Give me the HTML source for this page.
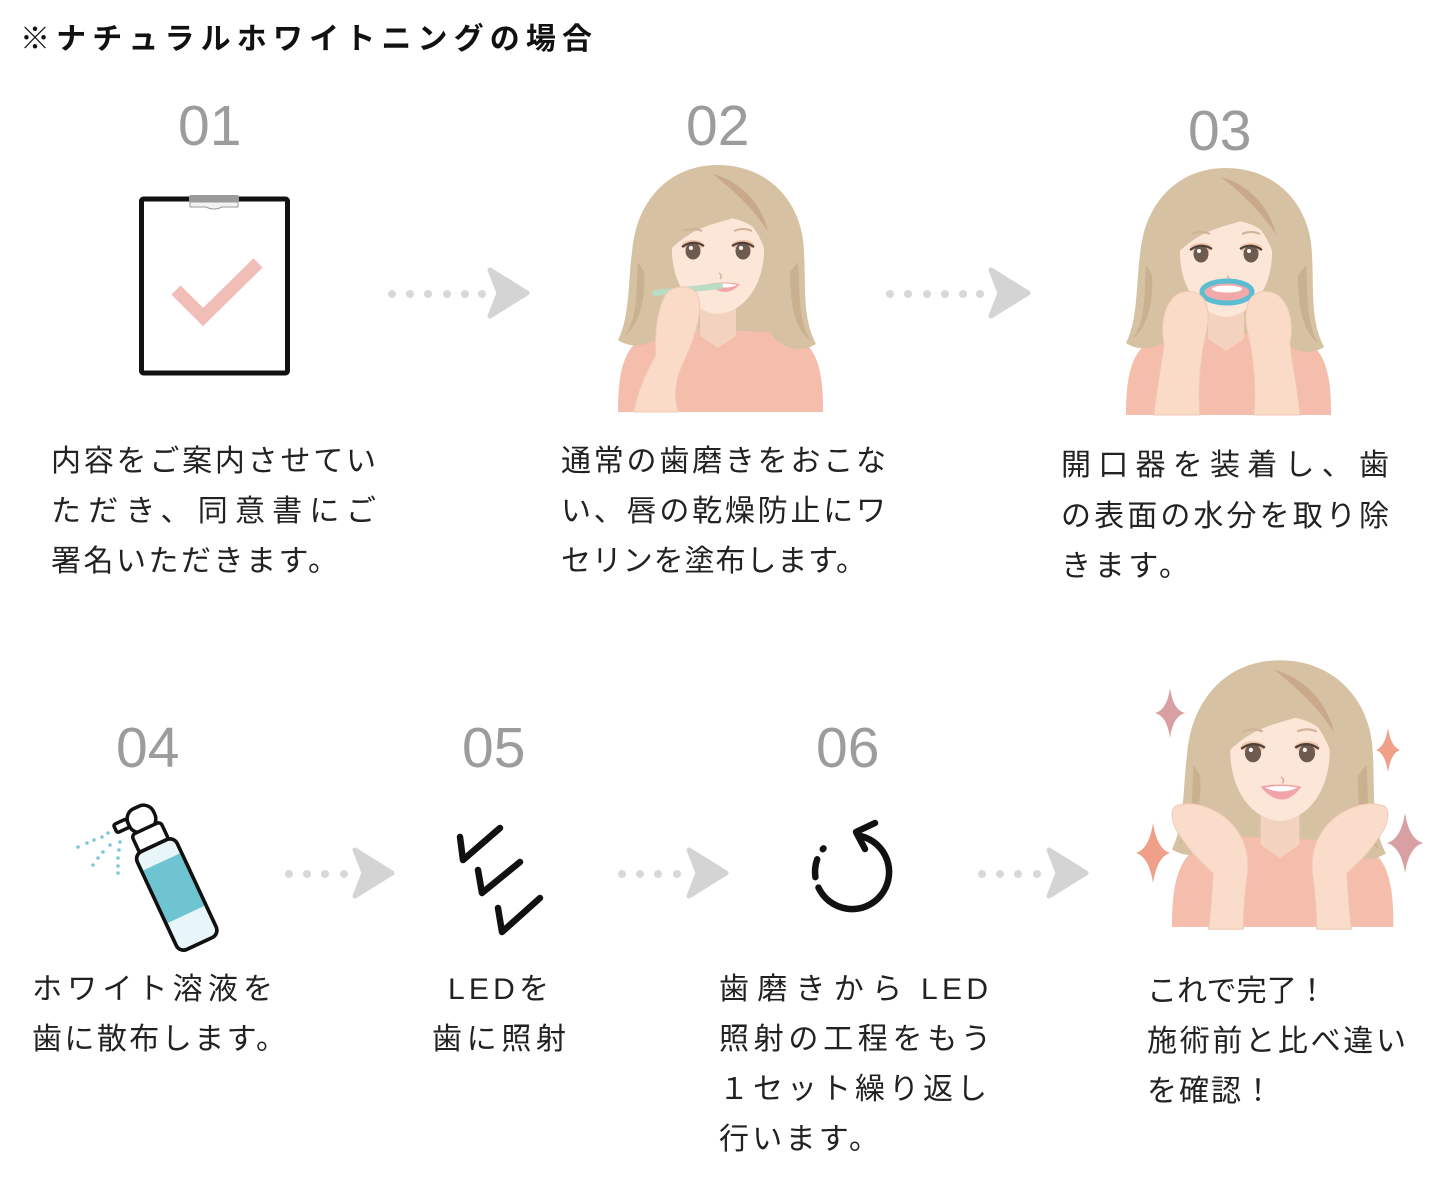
<!DOCTYPE html>
<html lang="ja">
<head>
<meta charset="utf-8">
<style>
html,body{margin:0;padding:0;background:#fff;}
svg{display:block;}
.t{font-family:"Liberation Sans","Noto Sans CJK JP",sans-serif;font-size:30px;fill:#222;}
.n{font-family:"Liberation Sans","Noto Sans CJK JP",sans-serif;font-size:57px;fill:#9c9c9c;}
.ttl{font-family:"Liberation Sans","Noto Sans CJK JP",sans-serif;font-size:30px;font-weight:bold;fill:#111;}
</style>
</head>
<body>
<svg width="1450" height="1179" viewBox="0 0 1450 1179" xmlns="http://www.w3.org/2000/svg">
<defs>
  <g id="head">
    <path d="M 0,-97 C 50,-97 85,-60 86,-10 C 88,25 84,55 98,82 C 82,92 62,86 52,70 L -50,66 C -62,84 -86,88 -100,78 C -88,54 -90,20 -86,-10 C -82,-60 -50,-97 0,-97 Z" fill="#d6c1a2"/>
    <path d="M -80,0 C -82,30 -80,58 -94,74 C -80,64 -72,40 -74,10 Z" fill="#c9b08f"/>
    <path d="M 80,0 C 82,30 80,58 92,78 C 76,66 72,40 72,10 Z" fill="#c9b08f"/>
    <path d="M -18,28 L -18,74 L 0,86 L 18,74 L 18,28 Z" fill="#f3d2bf"/>
    <path d="M -46,-15 C -47,20 -28,50 0,52 C 28,50 47,20 46,-15 C 45,-55 -45,-55 -46,-15 Z" fill="#fce6d8"/>
    <path d="M -50,-10 C -52,-60 -25,-90 5,-90 C 40,-88 62,-55 50,0 C 46,-20 36,-38 22,-48 C 10,-38 -20,-42 -50,-10 Z" fill="#d6c1a2"/>
    <path d="M -5,-88 C 25,-80 45,-55 50,-30 C 38,-50 20,-68 -5,-88 Z" fill="#caa98a"/>
    <path d="M -34,-31 Q -25,-35 -16,-31" stroke="#d0b298" stroke-width="2" fill="none"/>
    <path d="M 16,-31 Q 25,-35 34,-31" stroke="#d0b298" stroke-width="2" fill="none"/>
    <ellipse cx="-25" cy="-17" rx="11" ry="5" fill="#f0c4aa"/>
    <ellipse cx="25" cy="-17" rx="11" ry="5" fill="#f0c4aa"/>
    <ellipse cx="-25" cy="-11" rx="7.5" ry="8.5" fill="#6d5b4f"/>
    <ellipse cx="25" cy="-11" rx="7.5" ry="8.5" fill="#6d5b4f"/>
    <circle cx="-27" cy="-14" r="2" fill="#fff"/>
    <circle cx="23" cy="-14" r="2" fill="#fff"/>
    <path d="M -36,-15 Q -25,-23 -14,-16" stroke="#4e4038" stroke-width="2.2" fill="none"/>
    <path d="M 14,-16 Q 25,-23 36,-15" stroke="#4e4038" stroke-width="2.2" fill="none"/>
    <path d="M 1,11 Q 5,14 2,17" stroke="#d9b4a0" stroke-width="1.5" fill="none"/>
  </g>
  <path id="shirt" d="M -100,150 C -100,115 -96,85 -72,74 C -52,66 -32,62 -20,62 L 0,84 L 20,62 C 32,62 54,66 76,74 C 102,85 105,115 105,150 Z" fill="#f5bdab"/>
  <g id="arrowhead">
    <path d="M -9,-23 L 28,0 L -9,23 L 0,0 Z" fill="#d4d4d4" stroke="#d4d4d4" stroke-width="5" stroke-linejoin="round"/>
  </g>
</defs>

<!-- Title -->
<text class="ttl" x="20" y="49" textLength="572" lengthAdjust="spacing">※ナチュラルホワイトニングの場合</text>

<!-- Numbers -->
<text class="n" x="178" y="145">01</text>
<text class="n" x="686" y="145">02</text>
<text class="n" x="1188" y="150">03</text>
<text class="n" x="116" y="767">04</text>
<text class="n" x="462" y="767">05</text>
<text class="n" x="816" y="767">06</text>

<!-- Step 1 clipboard -->
<rect x="141.5" y="199" width="146" height="174" rx="2" fill="#fff" stroke="#111" stroke-width="5"/>
<rect x="189" y="195" width="50" height="8" rx="2" fill="#9a9a9a"/>
<path d="M 190,202 L 238,202 L 238,207 L 222,207 Q 214,211 206,207 L 190,207 Z" fill="#f2f2f2" stroke="#9a9a9a" stroke-width="1"/>
<polyline points="176,290 203,317 258,263" fill="none" stroke="#f1bdb7" stroke-width="13"/>

<!-- Arrows row 1 -->
<g fill="#d8d8d8">
  <circle cx="392" cy="294" r="4"/><circle cx="410" cy="294" r="4"/><circle cx="428" cy="294" r="4"/>
  <circle cx="447" cy="294" r="4"/><circle cx="465" cy="294" r="4"/><circle cx="482" cy="294" r="4"/>
</g>
<use href="#arrowhead" transform="translate(499,293)"/>
<g fill="#d8d8d8">
  <circle cx="890" cy="294" r="4"/><circle cx="908" cy="294" r="4"/><circle cx="927" cy="294" r="4"/>
  <circle cx="945" cy="294" r="4"/><circle cx="963" cy="294" r="4"/><circle cx="980" cy="294" r="4"/>
</g>
<use href="#arrowhead" transform="translate(1000,293)"/>

<!-- Arrows row 2 -->
<g fill="#d8d8d8">
  <circle cx="289" cy="874" r="4"/><circle cx="307" cy="874" r="4"/><circle cx="325" cy="874" r="4"/><circle cx="344" cy="874" r="4"/>
</g>
<use href="#arrowhead" transform="translate(364,873)"/>
<g fill="#d8d8d8">
  <circle cx="622" cy="874" r="4"/><circle cx="640" cy="874" r="4"/><circle cx="658" cy="874" r="4"/><circle cx="677" cy="874" r="4"/>
</g>
<use href="#arrowhead" transform="translate(698,873)"/>
<g fill="#d8d8d8">
  <circle cx="982" cy="874" r="4"/><circle cx="1000" cy="874" r="4"/><circle cx="1018" cy="874" r="4"/><circle cx="1037" cy="874" r="4"/>
</g>
<use href="#arrowhead" transform="translate(1058,873)"/>

<!-- Woman 2 (brushing) -->
<g transform="translate(718,262)">
  <use href="#shirt"/>
  <use href="#head"/>
  <path d="M -10,22 Q 5,19 22,22 Q 8,38 -10,22 Z" fill="#f1a7a6"/>
  <path d="M -7,23 Q 6,20 19,23 Q 8,28 -7,23 Z" fill="#fff"/>
  <line x1="-63" y1="31" x2="2" y2="24" stroke="#b9dcc5" stroke-width="6" stroke-linecap="round"/>
  <path d="M -84,150 C -80,125 -70,108 -62,92 C -64,70 -60,45 -52,32 C -46,24 -30,22 -22,30 C -16,40 -18,58 -24,74 C -28,90 -36,100 -40,115 C -44,130 -42,140 -40,150 Z" fill="#f9dbc8" stroke="#f0c9b4" stroke-width="1"/>
</g>

<!-- Woman 3 (retractor) -->
<g transform="translate(1226,265)">
  <use href="#shirt"/>
  <use href="#head"/>
  <ellipse cx="1" cy="27" rx="25" ry="11" fill="#f3a9a9" stroke="#5cbcd1" stroke-width="5"/>
  <ellipse cx="1" cy="24" rx="15" ry="3.5" fill="#fff"/>
  <path d="M -72,150 C -70,125 -64,100 -62,78 C -66,60 -62,40 -50,30 C -40,24 -28,26 -22,34 C -15,46 -18,62 -22,78 C -26,100 -28,125 -26,150 Z" fill="#f9dbc8" stroke="#f0c9b4" stroke-width="1"/>
  <g transform="translate(2,0) scale(-1,1)">
    <path d="M -72,150 C -70,125 -64,100 -62,78 C -66,60 -62,40 -50,30 C -40,24 -28,26 -22,34 C -15,46 -18,62 -22,78 C -26,100 -28,125 -26,150 Z" fill="#f9dbc8" stroke="#f0c9b4" stroke-width="1"/>
  </g>
</g>

<!-- Step 4 spray bottle -->
<g fill="#7cc8d6">
  <circle cx="78" cy="847" r="1.8"/><circle cx="87" cy="843" r="1.8"/><circle cx="94" cy="840" r="1.8"/><circle cx="102" cy="837" r="1.8"/><circle cx="108" cy="833" r="1.8"/>
  <circle cx="93" cy="865" r="1.8"/><circle cx="98" cy="858" r="1.8"/><circle cx="103" cy="852" r="1.8"/><circle cx="110" cy="845" r="1.8"/>
  <circle cx="118" cy="873" r="1.8"/><circle cx="118" cy="866" r="1.8"/><circle cx="118" cy="858" r="1.8"/><circle cx="119" cy="850" r="1.8"/><circle cx="120" cy="842" r="1.8"/>
</g>
<g transform="translate(170,880) rotate(-25)" stroke="#111" stroke-width="3.5" stroke-linejoin="round">
  <rect x="-28" y="-74" width="14" height="9" rx="2" fill="#fff"/>
  <rect x="-14" y="-80" width="28" height="25" rx="11" fill="#fff"/>
  <rect x="-16" y="-57" width="32" height="21" rx="4" fill="#fff"/>
  <rect x="-22" y="-38" width="44" height="108" rx="8" fill="#e8f5f9"/>
  <rect x="-20.2" y="-20" width="40.4" height="58" fill="#6fc4d1" stroke="none"/>
  <rect x="-22" y="-38" width="44" height="108" rx="8" fill="none"/>
</g>

<!-- Step 5 LED checks -->
<g fill="none" stroke="#111" stroke-width="6.5" stroke-linecap="round" stroke-linejoin="round">
  <polyline points="460,837 463,860 500,828"/>
  <polyline points="478,870 482,893 520,862"/>
  <polyline points="498,908 502,932 540,898"/>
</g>

<!-- Step 6 reload -->
<g fill="none" stroke="#111" stroke-width="6.5" stroke-linecap="round" stroke-linejoin="round">
  <path d="M 861.6,836.3 A 37,37 0 1 1 818.5,887.6"/>
  <path d="M 815.4,877.1 A 37,37 0 0 1 817.2,859.3"/>
  <path d="M 822.8,849.2 L 823.5,848.4"/>
  <polyline points="875,823 856,832 865,849"/>
</g>

<!-- Woman 7 (final) -->
<g fill="#d9a0a3">
  <path d="M 1170,688 Q 1173,710 1185,713 Q 1173,716 1170,738 Q 1167,716 1155,713 Q 1167,710 1170,688 Z"/>
  <path d="M 1405,813 Q 1409,839 1423,843 Q 1409,847 1405,873 Q 1401,847 1387,843 Q 1401,839 1405,813 Z"/>
</g>
<g fill="#f0a088">
  <path d="M 1388,728 Q 1391,747 1400,750 Q 1391,753 1388,772 Q 1385,753 1376,750 Q 1385,747 1388,728 Z"/>
  <path d="M 1153,823 Q 1157,849 1170,853 Q 1157,857 1153,883 Q 1149,857 1136,853 Q 1149,849 1153,823 Z"/>
</g>
<g transform="translate(1280,765) scale(1.08)">
  <use href="#shirt"/>
  <use href="#head"/>
  <path d="M -18,20 Q 0,16 20,20 Q 2,44 -18,20 Z" fill="#f0a6a8"/>
  <path d="M -14,21 Q 1,18 16,21 Q 2,28 -14,21 Z" fill="#fff"/>
  <path d="M -96,38 C -80,32 -58,40 -44,55 C -34,66 -28,82 -30,100 C -32,115 -34,135 -34,152 L -66,152 C -64,130 -62,110 -62,100 C -74,90 -88,75 -97,58 C -101,48 -101,40 -96,38 Z" fill="#fadccb" stroke="#f0c9b4" stroke-width="1"/>
  <g transform="scale(-1,1)">
    <path d="M -96,38 C -80,32 -58,40 -44,55 C -34,66 -28,82 -30,100 C -32,115 -34,135 -34,152 L -66,152 C -64,130 -62,110 -62,100 C -74,90 -88,75 -97,58 C -101,48 -101,40 -96,38 Z" fill="#fadccb" stroke="#f0c9b4" stroke-width="1"/>
  </g>
</g>

<!-- Texts step 1 -->
<text class="t" x="51" y="471" textLength="325" lengthAdjust="spacing">内容をご案内させてい</text>
<text class="t" x="51" y="521" textLength="325" lengthAdjust="spacing">ただき、同意書にご</text>
<text class="t" x="51" y="571" textLength="287" lengthAdjust="spacing">署名いただきます。</text>

<!-- Step 2 -->
<text class="t" x="561" y="471" textLength="325" lengthAdjust="spacing">通常の歯磨きをおこな</text>
<text class="t" x="561" y="521" textLength="325" lengthAdjust="spacing">い、唇の乾燥防止にワ</text>
<text class="t" x="561" y="571" textLength="305" lengthAdjust="spacing">セリンを塗布します。</text>

<!-- Step 3 -->
<text class="t" x="1061" y="475" textLength="328" lengthAdjust="spacing">開口器を装着し、歯</text>
<text class="t" x="1061" y="526" textLength="328" lengthAdjust="spacing">の表面の水分を取り除</text>
<text class="t" x="1061" y="576" textLength="128" lengthAdjust="spacing">きます。</text>

<!-- Step 4 -->
<text class="t" x="32" y="999" textLength="241" lengthAdjust="spacing">ホワイト溶液を</text>
<text class="t" x="32" y="1049" textLength="254" lengthAdjust="spacing">歯に散布します。</text>

<!-- Step 5 -->
<text class="t" x="448" y="999" textLength="101" lengthAdjust="spacing">LEDを</text>
<text class="t" x="432" y="1049" textLength="134" lengthAdjust="spacing">歯に照射</text>

<!-- Step 6 -->
<text class="t" x="719" y="999" textLength="183" lengthAdjust="spacing">歯磨きから</text>
<text class="t" x="921" y="999" textLength="67" lengthAdjust="spacing">LED</text>
<text class="t" x="719" y="1049" textLength="272" lengthAdjust="spacing">照射の工程をもう</text>
<text class="t" x="719" y="1099" textLength="268" lengthAdjust="spacing">１セット繰り返し</text>
<text class="t" x="719" y="1149" textLength="160" lengthAdjust="spacing">行います。</text>

<!-- Step 7 -->
<text class="t" x="1147" y="1001" textLength="180" lengthAdjust="spacing">これで完了！</text>
<text class="t" x="1147" y="1051" textLength="259" lengthAdjust="spacing">施術前と比べ違い</text>
<text class="t" x="1147" y="1101" textLength="126" lengthAdjust="spacing">を確認！</text>
</svg>
</body>
</html>
